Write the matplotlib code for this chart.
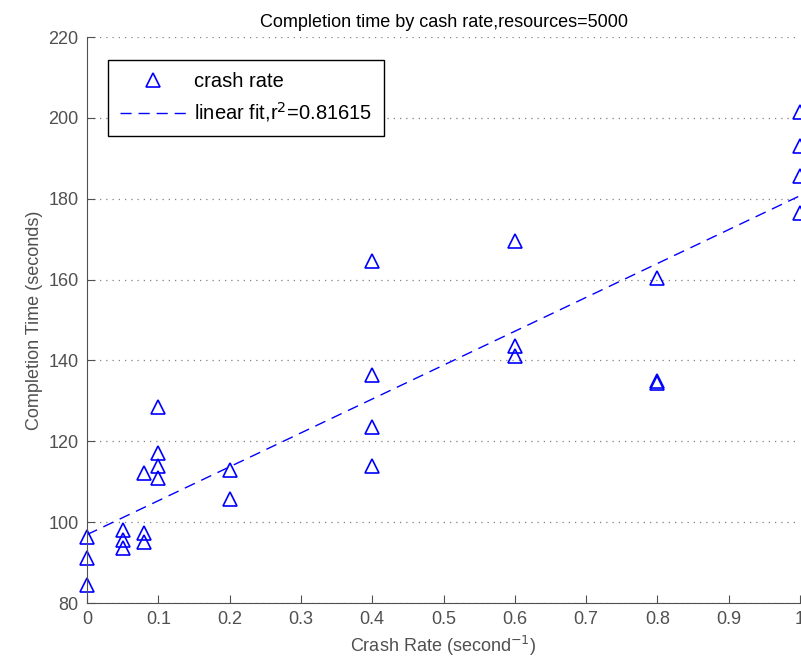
import numpy as np
import matplotlib.pyplot as plt

plt.rcParams['font.family'] = ['Liberation Sans Narrow', 'Liberation Sans', 'DejaVu Sans']

# crash rate (1/s) and measured completion time (s)
rate = [0, 0, 0,
        0.05, 0.05, 0.05,
        0.08, 0.08, 0.08,
        0.1, 0.1, 0.1, 0.1,
        0.2, 0.2,
        0.4, 0.4, 0.4, 0.4,
        0.6, 0.6, 0.6,
        0.8, 0.8, 0.8,
        1, 1, 1, 1]
ctime = [96.3, 91.1, 84.5,
         98.0, 95.6, 93.6,
         112.2, 97.3, 95.0,
         128.5, 117.0, 114.0, 111.0,
         113.0, 105.7,
         164.5, 136.5, 123.5, 114.0,
         169.5, 143.5, 141.0,
         160.5, 135.0, 134.5,
         201.5, 193.0, 185.5, 176.5]
r2_label = 'linear fit,r$^2$=0.81615'

coef = np.polyfit(rate, ctime, 1)
xf = np.linspace(0, 1, 50)
yf = np.polyval(coef, xf)

gray = '#505050'
fig = plt.figure(figsize=(8.01, 6.70), dpi=100)
ax = fig.add_axes([87 / 801, 1 - 603 / 670, 713 / 801, 566 / 670])

ax.plot(rate, ctime, linestyle='none', marker='^', markersize=10,
        markerfacecolor='none', markeredgecolor='blue', markeredgewidth=1.2,
        label='crash rate', clip_on=False)
ax.plot(xf, yf, '--', color='blue', linewidth=1.0, dashes=(8, 5), label=r2_label)

ax.set_xlim(0, 1)
ax.set_ylim(80, 220)
ax.set_xticks(np.arange(0, 1.01, 0.1))
ax.set_xticklabels(['0', '0.1', '0.2', '0.3', '0.4', '0.5', '0.6', '0.7', '0.8', '0.9', '1'])
ax.set_yticks(np.arange(80, 221, 20))

ax.spines['top'].set_visible(False)
ax.spines['right'].set_visible(False)
ax.spines['left'].set_color(gray)
ax.spines['bottom'].set_color(gray)
ax.tick_params(direction='in', length=6, colors=gray, labelsize=13, pad=6)
ax.yaxis.grid(True, linestyle=(0, (1, 4)), color='#808080', linewidth=0.9)
ax.set_axisbelow(True)

ax.set_xlabel('Crash Rate (second$^{-1}$)', fontsize=13, color=gray)
ax.set_ylabel('Completion Time (seconds)', fontsize=13, color=gray)
ax.set_title('Completion time by cash rate,resources=5000', fontsize=13, pad=7)

leg = ax.legend(loc='upper left', bbox_to_anchor=(0.029, 0.959), borderaxespad=0,
                fontsize=14.5, fancybox=False, framealpha=1, edgecolor='black',
                handlelength=3.3, handletextpad=0.4, borderpad=0.6, labelspacing=0.45)
leg.get_frame().set_linewidth(1.0)

fig.savefig('out.png', dpi=100)
